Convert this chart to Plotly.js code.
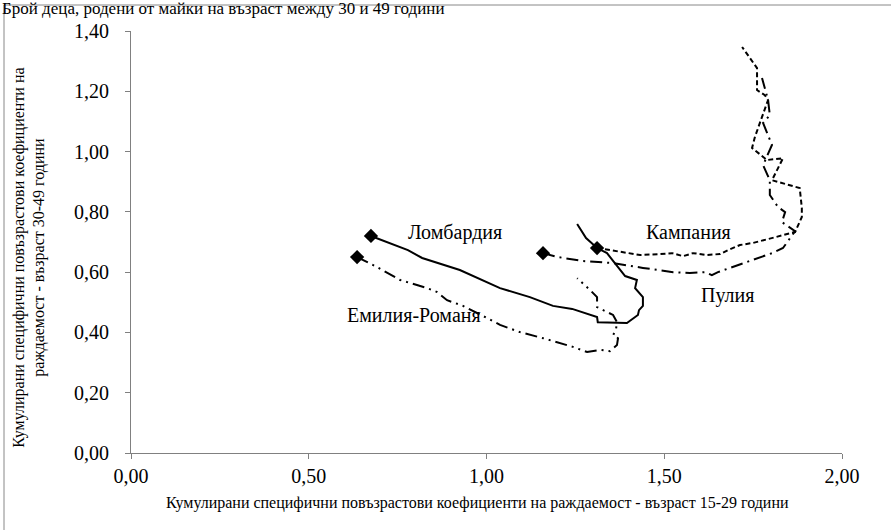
<!DOCTYPE html>
<html>
<head>
<meta charset="utf-8">
<script src="https://cdn.plot.ly/plotly-3.0.1.min.js"></script>
<style>html,body{margin:0;padding:0;background:#fff;}#chart{width:891px;height:530px;}</style>
</head>
<body>
<div id="chart"></div>
<script>
// Lombardia (solid)
const lombX = [0.675,0.779,0.819,0.925,1.038,1.122,1.187,1.241,1.311,1.313,1.395,1.426,1.429,1.440,1.440,1.418,1.423,1.390,1.361,1.339,1.311,1.280,1.255];
const lombY = [0.720,0.673,0.647,0.607,0.547,0.517,0.488,0.478,0.451,0.434,0.431,0.458,0.474,0.488,0.517,0.547,0.574,0.587,0.630,0.663,0.680,0.713,0.760];
// Emilia-Romagna (long dash dot dot)
const emilX = [0.636,0.692,0.757,0.833,0.861,0.889,0.934,0.959,1.001,1.038,1.094,1.159,1.215,1.243,1.283,1.319,1.347,1.367,1.370,1.356,1.364,1.367,1.356,1.328,1.311,1.311,1.291,1.255];
const emilY = [0.650,0.617,0.574,0.547,0.534,0.507,0.488,0.474,0.448,0.425,0.401,0.381,0.362,0.352,0.335,0.342,0.338,0.358,0.381,0.391,0.408,0.434,0.458,0.474,0.484,0.517,0.541,0.580];
// Kampania (dashed)
const kampX = [1.311,1.376,1.432,1.488,1.522,1.553,1.581,1.620,1.657,1.679,1.713,1.750,1.806,1.868,1.887,1.887,1.881,1.803,1.834,1.789,1.747,1.755,1.769,1.792,1.783,1.761,1.761,1.719];
const kampY = [0.680,0.667,0.657,0.660,0.663,0.653,0.663,0.657,0.660,0.673,0.690,0.697,0.713,0.733,0.783,0.813,0.879,0.905,0.978,0.972,1.012,1.048,1.095,1.171,1.187,1.204,1.277,1.347];
// Puglia (dash dot)
const pugX = [1.159,1.201,1.271,1.356,1.440,1.525,1.572,1.615,1.634,1.651,1.685,1.769,1.803,1.834,1.854,1.868,1.831,1.840,1.820,1.797,1.797,1.778,1.803,1.778,1.797,1.792,1.775];
const pugY = [0.663,0.650,0.637,0.630,0.614,0.600,0.597,0.600,0.590,0.600,0.614,0.650,0.663,0.680,0.713,0.736,0.766,0.799,0.816,0.856,0.905,0.955,1.022,1.095,1.121,1.171,1.244];

const regionNames = ["Ломбардия","Емилия-Романя","Кампания","Пулия"];
const labelX = [0.911, 0.796, 1.567, 1.679];
const labelY = [0.733, 0.458, 0.733, 0.524];

const titleText = "Брой деца, родени от майки на възраст между 30 и 49 години";
const xTitle = "Кумулирани специфични повъзрастови коефициенти на раждаемост - възраст 15-29 години";
const yTitle = "Кумулирани специфични повъзрастови коефициенти на<br>раждаемост - възраст 30-49 години";

const serif = "Liberation Serif";
const series = [
  {x: lombX, y: lombY, dash: "solid"},
  {x: emilX, y: emilY, dash: "12px,5px,2px,5px,2px,5px"},
  {x: kampX, y: kampY, dash: "5px,3px"},
  {x: pugX, y: pugY, dash: "12px,5px,2px,5px"}
];
const traces = series.map(s => ({
  type: "scatter", mode: "lines", x: s.x, y: s.y,
  line: {color: "#000", width: 2, dash: s.dash}, hoverinfo: "skip", showlegend: false
}));
traces.push({
  type: "scatter", mode: "markers",
  x: series.map(s => s.x[0]), y: series.map(s => s.y[0]),
  marker: {symbol: "diamond", size: 11, color: "#000"}, showlegend: false, hoverinfo: "skip"
});

const annotations = regionNames.map((n, i) => ({
  x: labelX[i], y: labelY[i], xref: "x", yref: "y", text: n, showarrow: false,
  font: {family: serif, size: 20, color: "#000"}
}));
annotations.push({
  xref: "paper", yref: "paper", x: -0.184, y: 1.054, xanchor: "left", yanchor: "middle",
  text: titleText, showarrow: false, font: {family: serif, size: 17, color: "#000"}
});
annotations.push({
  xref: "paper", yref: "paper", x: 0.487, y: -0.118, xanchor: "center", yanchor: "middle",
  text: xTitle, showarrow: false, font: {family: serif, size: 16, color: "#000"}
});
annotations.push({
  xref: "paper", yref: "paper", x: -0.144, y: 0.462, xanchor: "center", yanchor: "middle",
  text: yTitle, textangle: -90, showarrow: false, font: {family: serif, size: 16, color: "#000"}
});

const layout = {
  width: 891, height: 530,
  margin: {l: 131, r: 49, t: 31, b: 77},
  paper_bgcolor: "#fff", plot_bgcolor: "#fff",
  separators: ", ",
  font: {family: serif, color: "#000"},
  xaxis: {
    range: [0, 2], dtick: 0.5, tickformat: ".2f", showgrid: false, zeroline: false,
    showline: true, linecolor: "#808080", linewidth: 1,
    ticks: "outside", ticklen: 5, tickcolor: "#808080", ticklabelstandoff: 0,
    tickfont: {family: serif, size: 20, color: "#000"}
  },
  yaxis: {
    range: [0, 1.4], dtick: 0.2, tickformat: ".2f", showgrid: false, zeroline: false,
    showline: true, linecolor: "#808080", linewidth: 1,
    ticks: "outside", ticklen: 5, tickcolor: "#808080", ticklabelstandoff: 12,
    tickfont: {family: serif, size: 20, color: "#000"}
  },
  shapes: [{
    type: "rect", xref: "paper", yref: "paper",
    x0: -0.1786, x1: 1.2, y0: -0.3, y1: 1.0616,
    line: {color: "#888", width: 1}, fillcolor: "rgba(0,0,0,0)"
  }],
  annotations: annotations
};
Plotly.newPlot("chart", traces, layout, {staticPlot: true, displayModeBar: false});
</script>
</body>
</html>
